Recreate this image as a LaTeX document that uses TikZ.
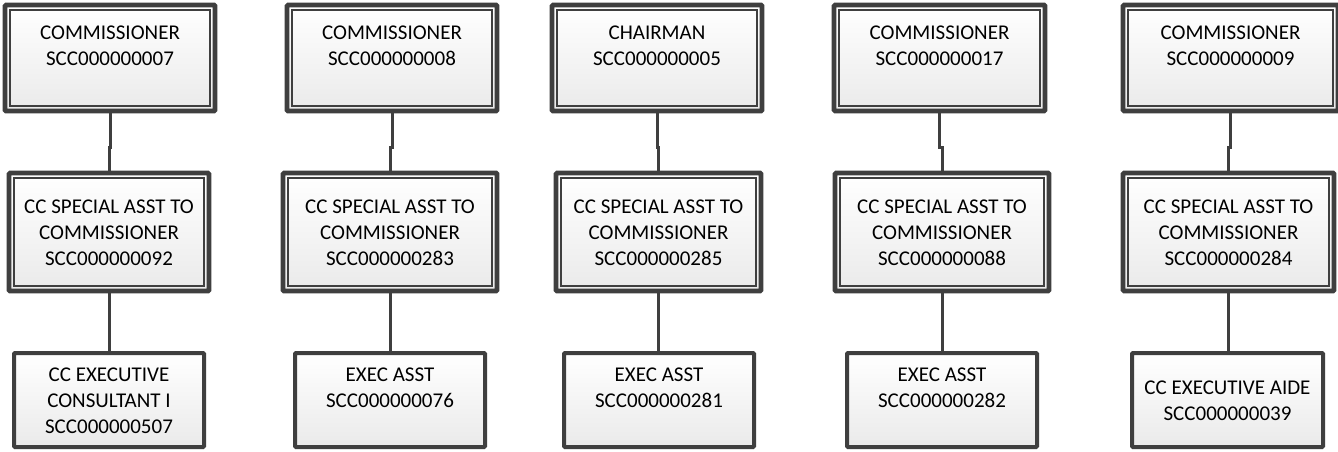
\documentclass[tikz,border=0pt]{standalone}
\usepackage{fontspec}
\setmainfont{Carlito}
\usetikzlibrary{calc}
\definecolor{bord}{HTML}{3F3F3F}
\definecolor{fillbot}{HTML}{EAEAEA}
\newcommand{\ls}{\rule[-5.5pt]{0pt}{26pt}}
\tikzset{
  box/.style={draw=bord, line width=4pt, rounded corners=1pt,
    top color=white, bottom color=fillbot, inner sep=0pt, align=center,
    font=\fontsize{21}{26}\selectfont},
  dbl/.style={box, line width=4.6pt},
  innerline/.style={draw=bord, line width=1.8pt},
  conn/.style={draw=bord, line width=3pt},
}
\newcommand{\bx}[6]{% name, style, x1, y1, x2, y2
  \node[#2, minimum width={(#5-#3)*1pt-4pt}, minimum height={(#6-#4)*1pt-4pt}]
    (#1) at ({(#3+#5)/2},{(#4+#6)/2})}
\begin{document}
\begin{tikzpicture}[x=1pt,y=-1pt]
\useasboundingbox (0,0) rectangle (1338,451);
\fill[white] (0,0) rectangle (1338,451);
% column 1
\bx{t1}{dbl}{3}{3}{217}{113}{\ls COMMISSIONER\\\ls SCC000000007\\\ls};
\bx{m1}{dbl}{7}{171}{211}{293}{\ls CC SPECIAL ASST TO\\\ls COMMISSIONER\\\ls SCC000000092};
\bx{b1}{box}{12}{351}{206}{449}{\ls CC EXECUTIVE\\\ls CONSULTANT I\\\ls SCC000000507};
% column 2
\bx{t2}{dbl}{285}{3}{499}{113}{\ls COMMISSIONER\\\ls SCC000000008\\\ls};
\bx{m2}{dbl}{281}{171}{499}{293}{\ls CC SPECIAL ASST TO\\\ls COMMISSIONER\\\ls SCC000000283};
\bx{b2}{box}{293}{351}{487}{449}{\ls EXEC ASST\\\ls SCC000000076\\\ls};
% column 3
\bx{t3}{dbl}{550}{3}{764}{113}{\ls CHAIRMAN\\\ls SCC000000005\\\ls};
\bx{m3}{dbl}{554}{171}{763}{293}{\ls CC SPECIAL ASST TO\\\ls COMMISSIONER\\\ls SCC000000285};
\bx{b3}{box}{562}{351}{756}{449}{\ls EXEC ASST\\\ls SCC000000281\\\ls};
% column 4
\bx{t4}{dbl}{832}{3}{1047}{113}{\ls COMMISSIONER\\\ls SCC000000017\\\ls};
\bx{m4}{dbl}{833}{171}{1051}{293}{\ls CC SPECIAL ASST TO\\\ls COMMISSIONER\\\ls SCC000000088};
\bx{b4}{box}{845}{351}{1039}{449}{\ls EXEC ASST\\\ls SCC000000282\\\ls};
% column 5
\bx{t5}{dbl}{1121}{3}{1340}{113}{\ls COMMISSIONER\\\ls SCC000000009\\\ls};
\bx{m5}{dbl}{1121}{171}{1336}{293}{\ls CC SPECIAL ASST TO\\\ls COMMISSIONER\\\ls SCC000000284};
\bx{b5}{box}{1130}{351}{1325}{449}{\ls CC EXECUTIVE AIDE\\\ls SCC000000039};
% inner lines of the double-bordered boxes
\foreach \n in {t1,m1,t2,m2,t3,m3,t4,m4,t5,m5}{
  \draw[innerline] ([shift={(7,7)}]\n.north west) rectangle ([shift={(-7,-7)}]\n.south east);
}
% connectors
\foreach \i in {1,...,5}{
  \draw[conn] (t\i.south) -- ++(0,34) -| (m\i.north);
  \draw[conn] (m\i.south) -- (m\i.south |- b\i.north);
}
\end{tikzpicture}
\end{document}
